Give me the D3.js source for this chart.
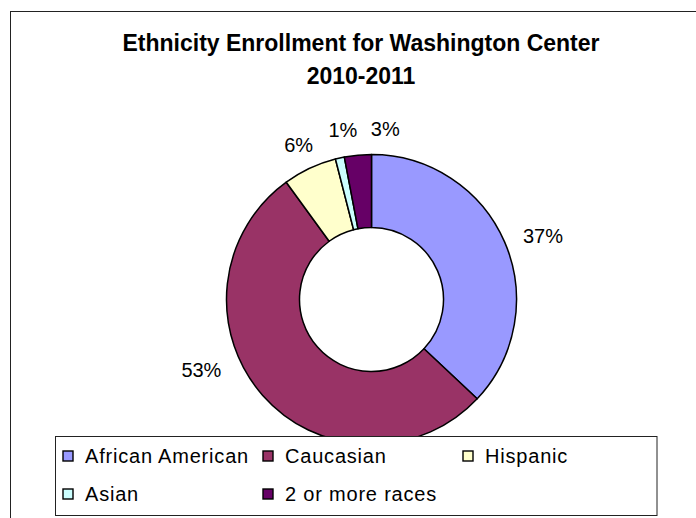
<!DOCTYPE html>
<html>
<head>
<meta charset="utf-8">
<script src="https://cdn.jsdelivr.net/npm/d3@7"></script>
<style>
  html, body { margin: 0; padding: 0; background: #fff; }
  svg { display: block; }
  text { font-family: "Liberation Sans", Arial, sans-serif; fill: #000; }
</style>
</head>
<body>
<div id="chart"></div>
<script>
// Enrollment share by ethnicity, 2010-2011
const categories = ["African American", "Caucasian", "Hispanic", "Asian", "2 or more races"];
const percentages = [37, 53, 6, 1, 3];
const sliceColors = ["#9999FF", "#993366", "#FFFFCC", "#CCFFFF", "#660066"];
const titleLines = ["Ethnicity Enrollment for Washington Center", "2010-2011"];

// Label placement: angular nudge (degrees) and distance from the centre
const labelShift = [3, 19, 0, 3, 10];
const labelRadius = [183, 184, 171, 172, 171];

const W = 696, H = 518;
const cx = 371.5, cy = 299.5;
const outerR = 145, innerR = 72;

const svg = d3.select("#chart").append("svg")
  .attr("width", W).attr("height", H);

// chart area frame (runs past the right and bottom edges)
svg.append("rect")
  .attr("x", 10.5).attr("y", 11.5)
  .attr("width", W + 20).attr("height", H + 20)
  .attr("fill", "#fff").attr("stroke", "#222").attr("stroke-width", 1);

// title
svg.append("g").selectAll("text")
  .data(titleLines).join("text")
  .attr("x", 361)
  .attr("y", (d, i) => 51 + i * 33)
  .attr("text-anchor", "middle")
  .attr("font-size", 23)
  .attr("font-weight", "bold")
  .text(d => d);

// doughnut
const pie = d3.pie().sort(null).value(d => d);
const arcs = pie(percentages);
const arc = d3.arc().innerRadius(innerR).outerRadius(outerR);

const g = svg.append("g").attr("transform", `translate(${cx},${cy})`);
g.selectAll("path")
  .data(arcs).join("path")
  .attr("d", arc)
  .attr("fill", (d, i) => sliceColors[i])
  .attr("stroke", "#000")
  .attr("stroke-width", 1.5)
  .attr("stroke-linejoin", "round");

// percentage labels
g.selectAll("text.pct")
  .data(arcs).join("text")
  .attr("class", "pct")
  .attr("text-anchor", "middle")
  .attr("font-size", 20)
  .attr("dy", "0.36em")
  .attr("x", (d, i) => {
    const a = (d.startAngle + d.endAngle) / 2 + labelShift[i] * Math.PI / 180;
    return labelRadius[i] * Math.sin(a);
  })
  .attr("y", (d, i) => {
    const a = (d.startAngle + d.endAngle) / 2 + labelShift[i] * Math.PI / 180;
    return -labelRadius[i] * Math.cos(a);
  })
  .text(d => d.data + "%");

// legend
const legendX = 55.5, legendY = 436.5, legendW = 601.5, legendH = 79;
const lg = svg.append("g");
lg.append("rect")
  .attr("x", legendX).attr("y", legendY)
  .attr("width", legendW).attr("height", legendH)
  .attr("fill", "#fff").attr("stroke", "#222").attr("stroke-width", 1);

const colStep = 200, rowStep = 38;
const items = lg.selectAll("g.item")
  .data(categories).join("g")
  .attr("class", "item")
  .attr("transform", (d, i) =>
    `translate(${legendX + 7.5 + (i % 3) * colStep},${legendY + 14.5 + Math.floor(i / 3) * rowStep})`);

items.append("rect")
  .attr("width", 10).attr("height", 10)
  .attr("fill", (d, i) => sliceColors[i])
  .attr("stroke", "#000").attr("stroke-width", 1.4);

items.append("text")
  .attr("x", 22).attr("y", 12)
  .attr("font-size", 20)
  .attr("letter-spacing", 0.8)
  .text(d => d);
</script>
</body>
</html>
